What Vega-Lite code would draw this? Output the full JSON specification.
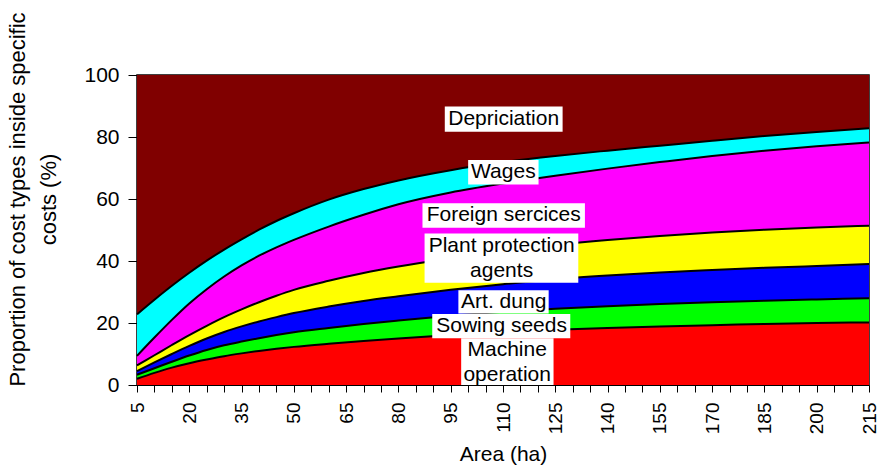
{
  "$schema": "https://vega.github.io/schema/vega-lite/v6.json",
  "width": 732,
  "height": 310,
  "autosize": {"type": "none"},
  "padding": {"left": 137, "top": 75, "right": 11, "bottom": 88},
  "background": "white",
  "config": {
    "font": "Liberation Sans",
    "view": {"stroke": "black", "strokeWidth": 1.5},
    "axis": {"grid": false, "domainColor": "black", "tickColor": "black", "labelColor": "black", "titleColor": "black", "titleFontWeight": "normal", "labelOverlap": false}
  },
  "datasets": {
    "shares": [
      {"area": 5, "Machine operation": 2, "Sowing seeds": 1.3, "Art dung": 1.2, "Plant protection agents": 1.8, "Foreign sercices": 3.1, "Wages": 13.4, "Depriciation": 77.2},
      {"area": 10, "Machine operation": 3.9, "Sowing seeds": 1.5, "Art dung": 1.9, "Plant protection agents": 2.3, "Foreign sercices": 5.7, "Wages": 12.2, "Depriciation": 72.5},
      {"area": 15, "Machine operation": 5.6, "Sowing seeds": 1.9, "Art dung": 2.5, "Plant protection agents": 2.9, "Foreign sercices": 8.1, "Wages": 11, "Depriciation": 68},
      {"area": 20, "Machine operation": 7.0, "Sowing seeds": 2.5, "Art dung": 3.1, "Plant protection agents": 3.5, "Foreign sercices": 10.2, "Wages": 9.9, "Depriciation": 63.8},
      {"area": 25, "Machine operation": 8.2, "Sowing seeds": 3.1, "Art dung": 3.7, "Plant protection agents": 4.1, "Foreign sercices": 11.8, "Wages": 9.2, "Depriciation": 59.9},
      {"area": 30, "Machine operation": 9.3, "Sowing seeds": 3.5, "Art dung": 4.3, "Plant protection agents": 4.8, "Foreign sercices": 13.1, "Wages": 8.7, "Depriciation": 56.3},
      {"area": 35, "Machine operation": 10.2, "Sowing seeds": 3.8, "Art dung": 4.9, "Plant protection agents": 5.5, "Foreign sercices": 14.2, "Wages": 8.4, "Depriciation": 53},
      {"area": 40, "Machine operation": 11.0, "Sowing seeds": 4.1, "Art dung": 5.4, "Plant protection agents": 6.2, "Foreign sercices": 15.0, "Wages": 8.4, "Depriciation": 49.9},
      {"area": 45, "Machine operation": 11.7, "Sowing seeds": 4.4, "Art dung": 5.8, "Plant protection agents": 6.9, "Foreign sercices": 15.6, "Wages": 8.5, "Depriciation": 47.1},
      {"area": 50, "Machine operation": 12.3, "Sowing seeds": 4.7, "Art dung": 6.2, "Plant protection agents": 7.5, "Foreign sercices": 16.1, "Wages": 8.6, "Depriciation": 44.6},
      {"area": 60, "Machine operation": 13.3, "Sowing seeds": 5.1, "Art dung": 6.9, "Plant protection agents": 8.3, "Foreign sercices": 17.5, "Wages": 8.7, "Depriciation": 40.2},
      {"area": 70, "Machine operation": 14.2, "Sowing seeds": 5.5, "Art dung": 7.4, "Plant protection agents": 9.0, "Foreign sercices": 18.8, "Wages": 8.3, "Depriciation": 36.8},
      {"area": 80, "Machine operation": 15.0, "Sowing seeds": 5.8, "Art dung": 7.8, "Plant protection agents": 9.6, "Foreign sercices": 20.1, "Wages": 7.7, "Depriciation": 34.0},
      {"area": 95, "Machine operation": 16.1, "Sowing seeds": 6.2, "Art dung": 8.4, "Plant protection agents": 10.2, "Foreign sercices": 21.2, "Wages": 7.2, "Depriciation": 30.7},
      {"area": 110, "Machine operation": 17.0, "Sowing seeds": 6.6, "Art dung": 8.9, "Plant protection agents": 10.7, "Foreign sercices": 21.8, "Wages": 6.9, "Depriciation": 28.1},
      {"area": 125, "Machine operation": 17.8, "Sowing seeds": 6.8, "Art dung": 9.5, "Plant protection agents": 11.1, "Foreign sercices": 22.3, "Wages": 6.4, "Depriciation": 26.1},
      {"area": 140, "Machine operation": 18.4, "Sowing seeds": 7.0, "Art dung": 9.9, "Plant protection agents": 11.5, "Foreign sercices": 23.0, "Wages": 5.8, "Depriciation": 24.4},
      {"area": 155, "Machine operation": 18.9, "Sowing seeds": 7.2, "Art dung": 10.2, "Plant protection agents": 11.8, "Foreign sercices": 23.8, "Wages": 5.3, "Depriciation": 22.8},
      {"area": 170, "Machine operation": 19.3, "Sowing seeds": 7.4, "Art dung": 10.4, "Plant protection agents": 12.1, "Foreign sercices": 24.7, "Wages": 4.9, "Depriciation": 21.2},
      {"area": 185, "Machine operation": 19.7, "Sowing seeds": 7.5, "Art dung": 10.6, "Plant protection agents": 12.3, "Foreign sercices": 25.5, "Wages": 4.7, "Depriciation": 19.7},
      {"area": 200, "Machine operation": 20, "Sowing seeds": 7.6, "Art dung": 10.8, "Plant protection agents": 12.4, "Foreign sercices": 26.2, "Wages": 4.6, "Depriciation": 18.4},
      {"area": 215, "Machine operation": 20.2, "Sowing seeds": 7.8, "Art dung": 11, "Plant protection agents": 12.4, "Foreign sercices": 26.8, "Wages": 4.6, "Depriciation": 17.2}
    ],
    "labels": [
      {"label": ["Depriciation"], "x": 110.2, "y": 85.8, "x0": 93.3, "x1": 127.1, "y0": 81.7, "y1": 89.8},
      {"label": ["Wages"], "x": 110.1, "y": 68.7, "x0": 100.0, "x1": 120.2, "y0": 64.7, "y1": 72.6},
      {"label": ["Foreign sercices"], "x": 110.2, "y": 54.7, "x0": 86.9, "x1": 133.5, "y0": 50.7, "y1": 58.6},
      {"label": ["Plant protection", "agents"], "x": 109.6, "y": 44.8, "x0": 87.5, "x1": 131.6, "y0": 33.0, "y1": 48.9},
      {"label": ["Art. dung"], "x": 110.2, "y": 26.9, "x0": 97.2, "x1": 123.1, "y0": 23.1, "y1": 30.6},
      {"label": ["Sowing seeds"], "x": 109.6, "y": 19, "x0": 89.7, "x1": 129.3, "y0": 15.1, "y1": 22.9},
      {"label": ["Machine", "operation"], "x": 111.2, "y": 11.3, "x0": 98.0, "x1": 124.5, "y0": 0, "y1": 15.1}
    ]
  },
  "layer": [
    {
      "data": {"name": "shares"},
      "transform": [
        {"fold": ["Machine operation", "Sowing seeds", "Art dung", "Plant protection agents", "Foreign sercices", "Wages", "Depriciation"], "as": ["cost", "share"]},
        {"calculate": "indexof(['Machine operation','Sowing seeds','Art dung','Plant protection agents','Foreign sercices','Wages','Depriciation'], datum.cost)", "as": "rank"}
      ],
      "mark": {"type": "area", "interpolate": "monotone"},
      "encoding": {
        "x": {"field": "area", "type": "quantitative", "title": "Area (ha)", "scale": {"domain": [5, 215], "nice": false, "zero": false},
          "axis": {"values": [5,10,15,20,25,30,35,40,45,50,55,60,65,70,75,80,85,90,95,100,105,110,115,120,125,130,135,140,145,150,155,160,165,170,175,180,185,190,195,200,205,210,215],
            "labelExpr": "(datum.value - 5) % 15 == 0 ? datum.label : ''", "labelAngle": -90, "labelFontSize": 19, "labelPadding": 10, "tickSize": 7, "titleFontSize": 21, "titlePadding": 10, "labelOverlap": false, "labelFlush": false}},
        "y": {"field": "share", "type": "quantitative", "stack": "zero", "title": ["Proportion of cost types inside specific", "costs (%)"], "scale": {"domain": [0, 100], "nice": false},
          "axis": {"values": [0, 20, 40, 60, 80, 100], "labelFontSize": 21, "labelPadding": 9, "tickSize": 9, "titleFontSize": 22, "titleLineHeight": 31, "titlePadding": 23, "titleY": 124}},
        "color": {"field": "cost", "type": "nominal", "legend": null,
          "scale": {"domain": ["Machine operation", "Sowing seeds", "Art dung", "Plant protection agents", "Foreign sercices", "Wages", "Depriciation"],
            "range": ["#ff0000", "#00ff00", "#0000ff", "#ffff00", "#ff00ff", "#00ffff", "#800000"]}},
        "order": {"field": "rank", "type": "quantitative"}
      }
    },
    {
      "data": {"name": "shares"},
      "transform": [
        {"fold": ["Machine operation", "Sowing seeds", "Art dung", "Plant protection agents", "Foreign sercices", "Wages"], "as": ["cost", "share"]},
        {"calculate": "indexof(['Machine operation','Sowing seeds','Art dung','Plant protection agents','Foreign sercices','Wages','Depriciation'], datum.cost)", "as": "rank"}
      ],
      "mark": {"type": "line", "interpolate": "monotone", "color": "black", "strokeWidth": 2},
      "encoding": {
        "x": {"field": "area", "type": "quantitative", "title": "Area (ha)",
          "axis": {"values": [5,10,15,20,25,30,35,40,45,50,55,60,65,70,75,80,85,90,95,100,105,110,115,120,125,130,135,140,145,150,155,160,165,170,175,180,185,190,195,200,205,210,215],
            "labelExpr": "(datum.value - 5) % 15 == 0 ? datum.label : ''", "labelAngle": -90, "labelFontSize": 19, "labelPadding": 10, "tickSize": 7, "titleFontSize": 21, "titlePadding": 10, "labelOverlap": false, "labelFlush": false}},
        "y": {"field": "share", "type": "quantitative", "stack": "zero", "title": ["Proportion of cost types inside specific", "costs (%)"],
          "axis": {"values": [0, 20, 40, 60, 80, 100], "labelFontSize": 21, "labelPadding": 9, "tickSize": 9, "titleFontSize": 22, "titleLineHeight": 31, "titlePadding": 23, "titleY": 124}},
        "detail": {"field": "cost", "type": "nominal"},
        "order": {"field": "rank", "type": "quantitative"}
      }
    },
    {
      "data": {"name": "labels"},
      "mark": {"type": "rect", "color": "white"},
      "encoding": {
        "x": {"field": "x0", "type": "quantitative", "title": "Area (ha)",
          "axis": {"values": [5,10,15,20,25,30,35,40,45,50,55,60,65,70,75,80,85,90,95,100,105,110,115,120,125,130,135,140,145,150,155,160,165,170,175,180,185,190,195,200,205,210,215],
            "labelExpr": "(datum.value - 5) % 15 == 0 ? datum.label : ''", "labelAngle": -90, "labelFontSize": 19, "labelPadding": 10, "tickSize": 7, "titleFontSize": 21, "titlePadding": 10, "labelOverlap": false, "labelFlush": false}},
        "x2": {"field": "x1"},
        "y": {"field": "y0", "type": "quantitative", "title": ["Proportion of cost types inside specific", "costs (%)"],
          "axis": {"values": [0, 20, 40, 60, 80, 100], "labelFontSize": 21, "labelPadding": 9, "tickSize": 9, "titleFontSize": 22, "titleLineHeight": 31, "titlePadding": 23, "titleY": 124}},
        "y2": {"field": "y1"}
      }
    },
    {
      "data": {"name": "labels"},
      "mark": {"type": "text", "color": "black", "fontSize": 21, "lineHeight": 25, "align": "center", "baseline": "middle"},
      "encoding": {
        "x": {"field": "x", "type": "quantitative", "title": "Area (ha)",
          "axis": {"values": [5,10,15,20,25,30,35,40,45,50,55,60,65,70,75,80,85,90,95,100,105,110,115,120,125,130,135,140,145,150,155,160,165,170,175,180,185,190,195,200,205,210,215],
            "labelExpr": "(datum.value - 5) % 15 == 0 ? datum.label : ''", "labelAngle": -90, "labelFontSize": 19, "labelPadding": 10, "tickSize": 7, "titleFontSize": 21, "titlePadding": 10, "labelOverlap": false, "labelFlush": false}},
        "y": {"field": "y", "type": "quantitative", "title": ["Proportion of cost types inside specific", "costs (%)"],
          "axis": {"values": [0, 20, 40, 60, 80, 100], "labelFontSize": 21, "labelPadding": 9, "tickSize": 9, "titleFontSize": 22, "titleLineHeight": 31, "titlePadding": 23, "titleY": 124}},
        "text": {"field": "label"}
      }
    }
  ]
}
